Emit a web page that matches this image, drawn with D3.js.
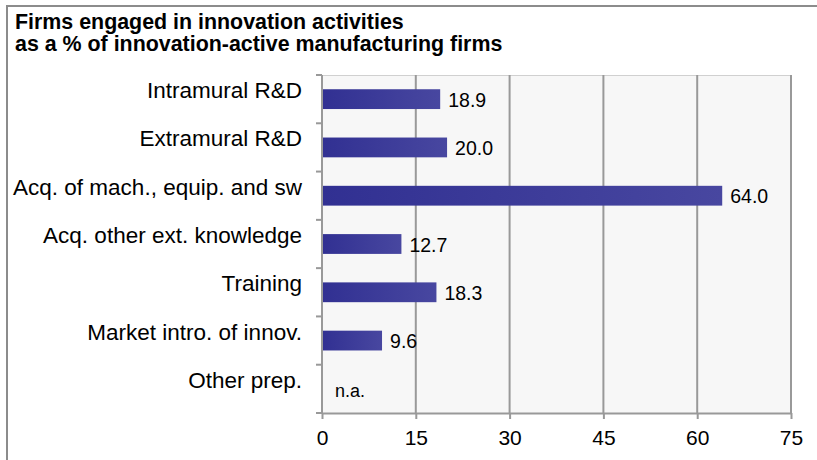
<!DOCTYPE html>
<html>
<head>
<meta charset="utf-8">
<script src="https://cdn.jsdelivr.net/npm/d3@7"></script>
<style>
  html, body { margin: 0; padding: 0; background: #fff; }
  svg { display: block; font-family: "Liberation Sans", Arial, sans-serif; }
</style>
</head>
<body>
<svg id="chart" width="817" height="460"></svg>
<script>
// Share of innovation-active manufacturing firms engaged in each activity (%)
const categories = [
  "Intramural R&D",
  "Extramural R&D",
  "Acq. of mach., equip. and sw",
  "Acq. other ext. knowledge",
  "Training",
  "Market intro. of innov.",
  "Other prep."
];
const values = [18.9, 20.0, 64.0, 12.7, 18.3, 9.6, null];
const valueLabels = ["18.9", "20.0", "64.0", "12.7", "18.3", "9.6", "n.a."];
const xTicks = [0, 15, 30, 45, 60, 75];
const titleLines = [
  "Firms engaged in innovation activities",
  "as a % of innovation-active manufacturing firms"
];

const data = categories.map((c, i) => ({ cat: c, value: values[i], label: valueLabels[i] }));

const svg = d3.select("#chart");
const W = 817, H = 460;
const plot = { left: 322, right: 791, top: 75, bottom: 413 };

// Outer frame
svg.append("rect")
  .attr("x", 7).attr("y", 6)
  .attr("width", W + 10).attr("height", H + 10)
  .attr("fill", "#fff")
  .attr("stroke", "#8c8c8c").attr("stroke-width", 2);

// Title
svg.append("g").selectAll("text")
  .data(titleLines).join("text")
  .attr("x", 15)
  .attr("y", (d, i) => 29 + i * 22)
  .attr("font-size", 21.4)
  .attr("font-weight", "bold")
  .attr("fill", "#000")
  .text(d => d);

const x = d3.scaleLinear().domain([0, 75]).range([plot.left, plot.right]);
const y = d3.scaleBand().domain(categories).range([plot.top, plot.bottom]).paddingInner(0.59).paddingOuter(0.295);
const yBand = d3.scaleBand().domain(categories).range([plot.top, plot.bottom]);

// Plot background
svg.append("rect")
  .attr("x", plot.left).attr("y", plot.top)
  .attr("width", plot.right - plot.left).attr("height", plot.bottom - plot.top)
  .attr("fill", "#f7f7f7");
svg.append("line")
  .attr("x1", plot.left).attr("x2", plot.right)
  .attr("y1", plot.top + 0.5).attr("y2", plot.top + 0.5)
  .attr("stroke", "#d0d0d0").attr("stroke-width", 1);

// Vertical gridlines
svg.append("g").selectAll("line")
  .data(xTicks.slice(1)).join("line")
  .attr("x1", d => x(d)).attr("x2", d => x(d))
  .attr("y1", plot.top).attr("y2", plot.bottom)
  .attr("stroke", "#999").attr("stroke-width", 2);

// Bar gradient
const defs = svg.append("defs");
const grad = defs.append("linearGradient")
  .attr("id", "barGrad")
  .attr("x1", "0%").attr("x2", "100%").attr("y1", "0%").attr("y2", "0%");
grad.append("stop").attr("offset", "0%").attr("stop-color", "#313092");
grad.append("stop").attr("offset", "100%").attr("stop-color", "#4847a0");

// Bars
svg.append("g").selectAll("rect")
  .data(data.filter(d => d.value != null)).join("rect")
  .attr("x", x(0))
  .attr("y", d => y(d.cat))
  .attr("width", d => x(d.value) - x(0))
  .attr("height", y.bandwidth())
  .attr("fill", "url(#barGrad)");

// Value labels
svg.append("g").selectAll("text")
  .data(data).join("text")
  .attr("x", d => d.value != null ? x(d.value) + 8 : x(0) + 13)
  .attr("y", d => d.value != null ? y(d.cat) + y.bandwidth() / 2 + 7.5 : yBand(d.cat) + yBand.bandwidth() / 2 + 8)
  .attr("font-size", d => d.value != null ? 19.5 : 18)
  .attr("fill", "#000")
  .text(d => d.label);

// Bottom axis
const xAxis = svg.append("g")
  .attr("transform", `translate(0,${plot.bottom})`)
  .call(d3.axisBottom(x).tickValues(xTicks).tickSize(6).tickSizeOuter(0).tickPadding(11));
xAxis.select(".domain").attr("stroke", "#999").attr("stroke-width", 2);
xAxis.selectAll(".tick line").attr("stroke", "#999").attr("stroke-width", 2);
xAxis.selectAll(".tick text")
  .attr("font-size", 21).attr("fill", "#000")
  .attr("font-family", "'Liberation Sans', Arial, sans-serif");

// Left axis with ticks between categories
const yAxisG = svg.append("g");
yAxisG.append("line")
  .attr("x1", plot.left).attr("x2", plot.left)
  .attr("y1", plot.top).attr("y2", plot.bottom)
  .attr("stroke", "#999").attr("stroke-width", 2);
const boundaries = d3.range(categories.length + 1).map(i => plot.top + i * yBand.step());
yAxisG.selectAll("line.tk")
  .data(boundaries).join("line").attr("class", "tk")
  .attr("x1", plot.left - 6).attr("x2", plot.left)
  .attr("y1", d => d).attr("y2", d => d)
  .attr("stroke", "#999").attr("stroke-width", 2);

// Category labels
svg.append("g").selectAll("text")
  .data(categories).join("text")
  .attr("x", 302)
  .attr("y", d => yBand(d) + yBand.bandwidth() / 2 - 1)
  .attr("text-anchor", "end")
  .attr("font-size", 22.5)
  .attr("fill", "#000")
  .text(d => d);
</script>
</body>
</html>
